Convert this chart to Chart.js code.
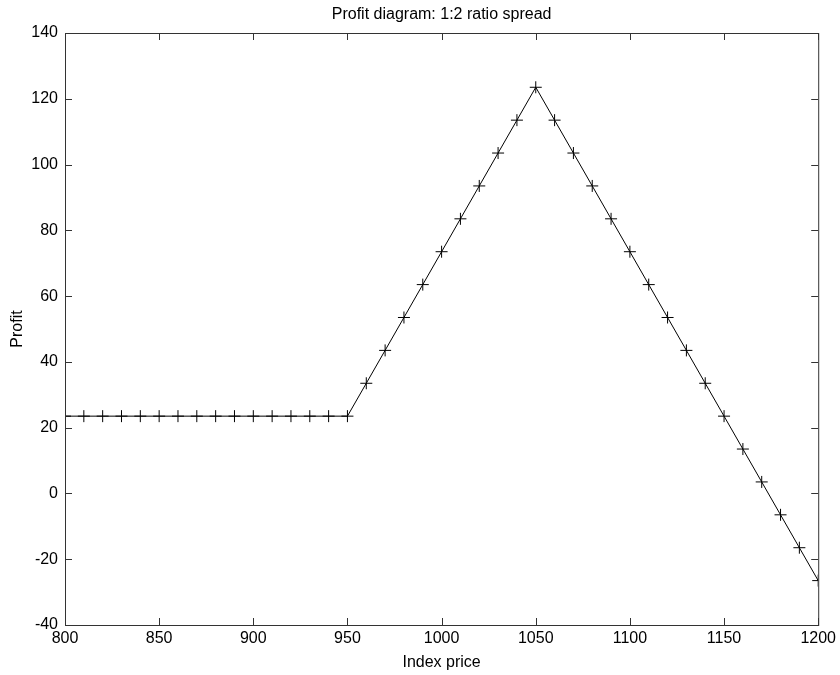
<!DOCTYPE html>
<html>
<head>
<meta charset="utf-8">
<script src="https://cdn.jsdelivr.net/npm/chart.js@4"></script>
<style>
  html, body { margin: 0; padding: 0; background: #fff; }
  #wrap { width: 840px; height: 675px; }
</style>
</head>
<body>
<div id="wrap"><canvas id="graphic"></canvas></div>
<script>
// index prices (x) and profit (y)
const prices = [800, 810, 820, 830, 840, 850, 860, 870, 880, 890, 900, 910, 920, 930, 940, 950,
  960, 970, 980, 990, 1000, 1010, 1020, 1030, 1040, 1050,
  1060, 1070, 1080, 1090, 1100, 1110, 1120, 1130, 1140, 1150, 1160, 1170, 1180, 1190, 1200];
const profit = [23.5, 23.5, 23.5, 23.5, 23.5, 23.5, 23.5, 23.5, 23.5, 23.5, 23.5, 23.5, 23.5, 23.5, 23.5, 23.5,
  33.5, 43.5, 53.5, 63.5, 73.5, 83.5, 93.5, 103.5, 113.5, 123.5,
  113.5, 103.5, 93.5, 83.5, 73.5, 63.5, 53.5, 43.5, 33.5, 23.5, 13.5, 3.5, -6.5, -16.5, -26.5];
const xTicks = [800, 850, 900, 950, 1000, 1050, 1100, 1150, 1200];
const yTicks = [-40, -20, 0, 20, 40, 60, 80, 100, 120, 140];
const chartTitle = 'Profit diagram: 1:2 ratio spread';

const font = "'Liberation Sans', Arial, Helvetica, sans-serif";

// matlab style: title centred over the axes, box with inward ticks on all sides
const boxTicks = {
  id: 'boxTicks',
  afterDraw(chart) {
    const { ctx, chartArea: a, scales } = chart;
    const len = 7;
    ctx.save();
    ctx.fillStyle = '#000';
    ctx.font = '16px ' + font;
    ctx.textAlign = 'center';
    ctx.textBaseline = 'middle';
    ctx.fillText(chartTitle, (a.left + a.right) / 2, 15);

    ctx.strokeStyle = '#333';
    ctx.lineWidth = 1;
    ctx.strokeRect(a.left + 0.5, a.top + 0.5, a.right - a.left, a.bottom - a.top);
    ctx.beginPath();
    xTicks.forEach(v => {
      const x = Math.round(scales.x.getPixelForValue(v)) + 0.5;
      ctx.moveTo(x, a.bottom); ctx.lineTo(x, a.bottom - len);
      ctx.moveTo(x, a.top); ctx.lineTo(x, a.top + len);
    });
    yTicks.forEach(v => {
      const y = Math.round(scales.y.getPixelForValue(v)) + 0.5;
      ctx.moveTo(a.left, y); ctx.lineTo(a.left + len, y);
      ctx.moveTo(a.right, y); ctx.lineTo(a.right - len, y);
    });
    ctx.stroke();
    ctx.restore();
  }
};

const data = {
  datasets: [{
    label: 'Profit',
    data: prices.map((p, i) => ({ x: p, y: profit[i] })),
    showLine: true,
    borderColor: '#000',
    borderWidth: 1,
    pointStyle: 'cross',
    pointRadius: 6,
    pointBorderColor: '#000',
    pointBorderWidth: 1,
    fill: false,
  }]
};

new Chart(document.getElementById('graphic'), {
  type: 'scatter',
  data,
  options: {
    responsive: true,
    maintainAspectRatio: false,
    animation: false,
    layout: { padding: { left: 0, right: 20, top: 33, bottom: 0 } },
    plugins: {
      legend: { display: false },
      tooltip: { enabled: false },
      title: { display: false },
    },
    scales: {
      x: {
        type: 'linear',
        min: 800, max: 1200,
        afterBuildTicks: s => { s.ticks = xTicks.map(v => ({ value: v })); },
        afterFit: s => { s.height = 50; },
        grid: { display: false, drawTicks: false },
        border: { display: false },
        ticks: { color: '#000', padding: 4, maxRotation: 0, font: { family: font, size: 16 }, callback: v => String(v) },
        title: { display: true, text: 'Index price', color: '#000', padding: { top: 0, bottom: 3 }, font: { family: font, size: 16 } },
      },
      y: {
        type: 'linear',
        min: -40, max: 140,
        afterBuildTicks: s => { s.ticks = yTicks.map(v => ({ value: v })); },
        afterFit: s => { s.width = 65; },
        grid: { display: false, drawTicks: false },
        border: { display: false },
        ticks: { color: '#000', padding: 7, font: { family: font, size: 16 }, callback: v => String(v) },
        title: { display: true, text: 'Profit', color: '#000', padding: { top: 8, bottom: 0 }, font: { family: font, size: 16 } },
      },
    },
  },
  plugins: [boxTicks],
});
</script>
</body>
</html>
